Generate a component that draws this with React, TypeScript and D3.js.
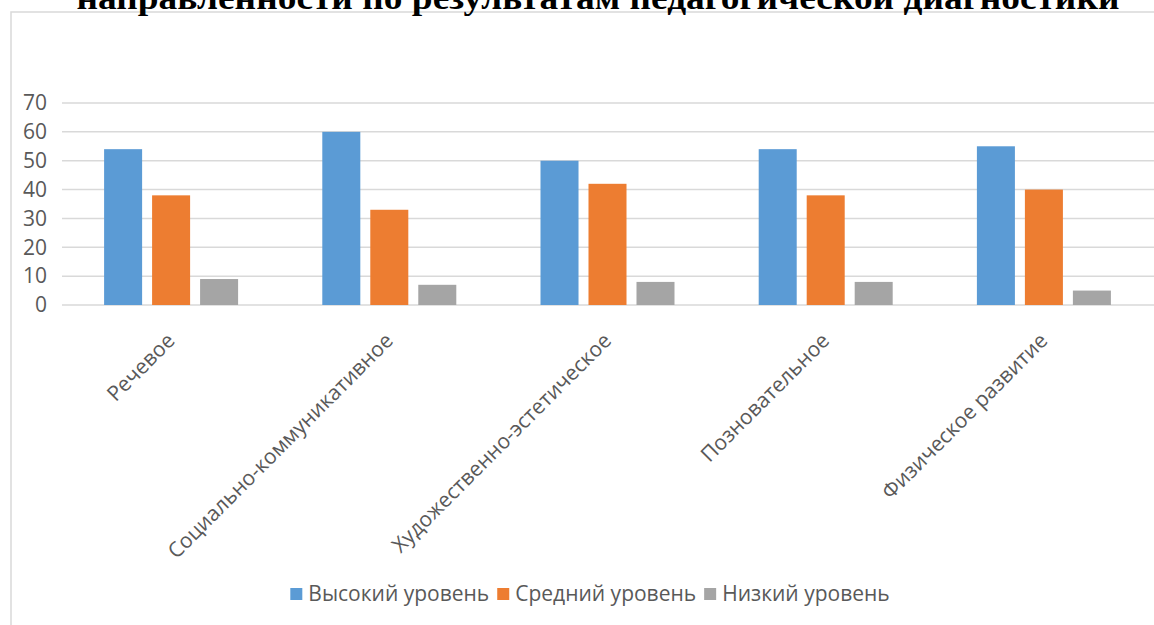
import { useEffect, useRef } from 'react';
import * as d3 from 'd3';

const categories = [
  'Речевое',
  'Социально-коммуникативное',
  'Художественно-эстетическое',
  'Позновательное',
  'Физическое развитие',
];
const seriesNames = ['Высокий уровень', 'Средний уровень', 'Низкий уровень'];
const highLevel = [54, 60, 50, 54, 55];
const midLevel = [38, 33, 42, 38, 40];
const lowLevel = [9, 7, 8, 8, 5];
const yTicks = [0, 10, 20, 30, 40, 50, 60, 70];
const titleText = 'направленности по результатам педагогической диагностики';

const colors = ['#5b9bd5', '#ed7d31', '#a5a5a5'];
const FONT = '"Open Sans", "DejaVu Sans", sans-serif';

export default function App() {
  const svgRef = useRef<SVGSVGElement>(null);

  useEffect(() => {
    document.body.style.margin = '0';
    if (!svgRef.current) return;
    const svg = d3.select(svgRef.current);
    svg.selectAll('*').remove();

    const width = 1154;
    const height = 625;
    svg.attr('width', width).attr('height', height);

    // chart frame (runs past the page edges)
    svg.append('rect')
      .attr('x', 11)
      .attr('y', 12)
      .attr('width', 1200)
      .attr('height', 700)
      .attr('fill', '#fff')
      .attr('stroke', '#d9d9d9')
      .attr('stroke-width', 1.5);

    // title, cut off at the top like in the source page
    svg.append('text')
      .attr('x', 598)
      .attr('y', 9)
      .attr('text-anchor', 'middle')
      .attr('textLength', 1043)
      .attr('lengthAdjust', 'spacingAndGlyphs')
      .style('font-family', '"Liberation Serif", "Times New Roman", serif')
      .style('font-weight', 'bold')
      .style('font-size', '34px')
      .style('fill', '#000')
      .text(titleText);

    const x = d3.scaleBand<string>().domain(categories).range([62, 1153]);
    const xInner = d3.scaleBand<string>()
      .domain(seriesNames)
      .range([0, 134])
      .paddingInner(0.208);
    const groupOffset = (x.bandwidth() - 134) / 2;

    const y = d3.scaleLinear().domain([0, 70]).range([305, 103]);

    // grid
    svg.append('g')
      .selectAll('line')
      .data(yTicks)
      .join('line')
      .attr('x1', 62)
      .attr('x2', width)
      .attr('y1', d => y(d))
      .attr('y2', d => y(d))
      .attr('stroke', '#d9d9d9')
      .attr('stroke-width', 1.5);

    // y tick labels
    svg.append('g')
      .selectAll('text')
      .data(yTicks)
      .join('text')
      .attr('x', 47)
      .attr('y', d => y(d))
      .attr('dy', '0.35em')
      .attr('text-anchor', 'end')
      .style('font-family', FONT)
      .style('font-size', '21px')
      .style('fill', '#595959')
      .text(d => d);

    // bars
    const seriesValues = [highLevel, midLevel, lowLevel];
    seriesNames.forEach((name, si) => {
      svg.append('g')
        .selectAll('rect')
        .data(categories.map((c, i) => ({ c, v: seriesValues[si][i] })))
        .join('rect')
        .attr('x', d => (x(d.c) || 0) + groupOffset + (xInner(name) || 0))
        .attr('y', d => y(d.v))
        .attr('width', xInner.bandwidth())
        .attr('height', d => y(0) - y(d.v))
        .attr('fill', colors[si]);
    });

    // category labels, rotated
    svg.append('g')
      .selectAll('text')
      .data(categories)
      .join('text')
      .attr('transform', d => `translate(${(x(d) || 0) + x.bandwidth() / 2 + 5},342) rotate(-45)`)
      .attr('text-anchor', 'end')
      .style('font-family', FONT)
      .style('font-size', '21px')
      .style('fill', '#595959')
      .text(d => d);

    // legend
    const legend = svg.append('g');
    let cursor = 0;
    seriesNames.forEach((name, si) => {
      const item = legend.append('g').attr('transform', `translate(${cursor},0)`);
      item.append('rect')
        .attr('x', 0)
        .attr('y', -6)
        .attr('width', 12)
        .attr('height', 12)
        .attr('fill', colors[si]);
      const t = item.append('text')
        .attr('x', 18)
        .attr('y', 0)
        .attr('dy', '0.35em')
        .style('font-family', FONT)
        .style('font-size', '21px')
        .style('fill', '#595959')
        .text(name);
      const w = (t.node() as SVGTextElement).getComputedTextLength();
      cursor += 18 + w + 8;
    });
    const total = cursor - 8;
    legend.attr('transform', `translate(${590 - total / 2},594)`);
  }, []);

  return <svg ref={svgRef} style={{ display: 'block' }} />;
}
